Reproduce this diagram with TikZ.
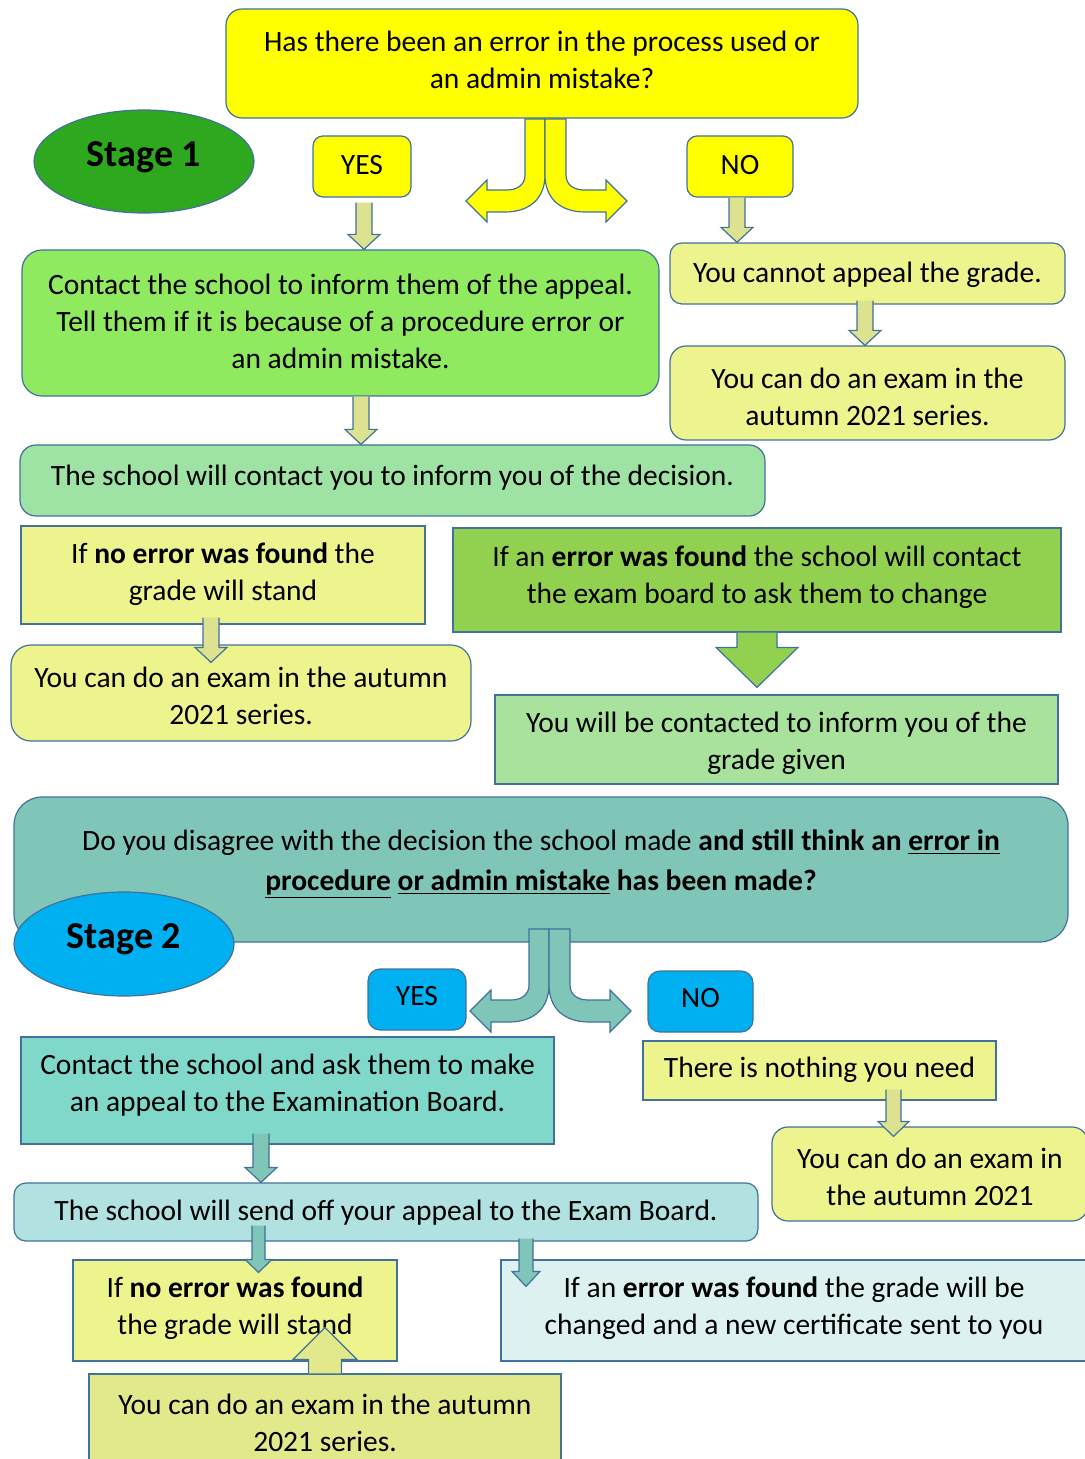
\documentclass[tikz,border=0pt]{standalone}
\usepackage{fontspec}
\setmainfont{Carlito}
\usetikzlibrary{calc,shapes.geometric}

\definecolor{edge}{RGB}{65,113,156}
\definecolor{qyellow}{RGB}{255,255,0}
\definecolor{paleyellow}{RGB}{238,244,141}
\definecolor{stagegreen}{RGB}{46,168,30}
\definecolor{stageblue}{RGB}{0,176,240}
\definecolor{contactgreen}{RGB}{144,234,96}
\definecolor{decisiongreen}{RGB}{158,227,163}
\definecolor{errgreen}{RGB}{146,208,80}
\definecolor{resultgreen}{RGB}{169,226,156}
\definecolor{qteal}{RGB}{127,198,184}
\definecolor{contactteal}{RGB}{128,216,202}
\definecolor{sendteal}{RGB}{177,225,224}
\definecolor{errteal}{RGB}{221,242,240}
\definecolor{lastyellow}{RGB}{225,233,139}
\definecolor{arrowpale}{RGB}{220,226,143}

\newcommand{\blockarrow}[6]{%
  \path[#1] let \p1=#2, \p2=#3 in
    ({\x1-#4},\y1) -- ({\x1-#4},{\y2+(#6)}) -- ({\x1-#5},{\y2+(#6)}) -- (\x1,\y2)
    -- ({\x1+#5},{\y2+(#6)}) -- ({\x1+#4},{\y2+(#6)}) -- ({\x1+#4},\y1);}

\newcommand{\forkarrows}[1]{%
  \path[#1] (-20,1) -- (-20,57) .. controls (-20,67) and (-28,72) .. (-38,72)
    -- (-58,72) -- (-58,62) -- (-79,83) -- (-58,104) -- (-58,94) -- (-40,94)
    .. controls (-15,94) and (0,80) .. (0,57) -- (0,1) -- cycle;
  \path[#1] (0,1) -- (0,57) .. controls (0,80) and (15,94) .. (40,94)
    -- (61,94) -- (61,104) -- (82,83) -- (61,62) -- (61,72) -- (39,72)
    .. controls (29,72) and (21,67) .. (21,57) -- (21,1) -- cycle;}

\begin{document}
\begin{tikzpicture}[x=0.5pt, y=-0.5pt,
  box/.style={draw=edge, line width=0.6pt, inner sep=0pt, align=center,
    font=\fontsize{14.75}{18.5}\selectfont, text depth=#1},
  box/.default=4pt,
  sz/.style 2 args={minimum width=#1*0.5pt, minimum height=#2*0.5pt},
  stagelabel/.style={ellipse, draw=edge, line width=0.6pt, inner sep=0pt,
    font=\fontsize{19}{22}\selectfont\bfseries, text depth=7.8pt},
  txt/.style={inner sep=0pt, align=center, font=\fontsize{14.75}{20}\selectfont},
  palearrow/.style={fill=arrowpale, draw=edge, line width=0.6pt},
  tealarrow/.style={fill=qteal, draw=edge, line width=0.6pt}]
\useasboundingbox (0,0) rectangle (1084,1459);

% stage 1
\node[box=4pt, sz={632}{109}, fill=qyellow, rounded corners=8pt] (q1) at (542,63.5)
  {Has there been an error in the process used or\\an admin mistake?};
\node[stagelabel, sz={220}{103}, fill=stagegreen] (stage1) at (144,161.5) {Stage 1};
\node[box=2pt, sz={98}{61}, fill=qyellow, rounded corners=5pt] (yes1) at (362,166.5) {YES};
\node[box=2pt, sz={106}{61}, fill=qyellow, rounded corners=5pt] (no1) at (740,166.5) {NO};

\node[box=2pt, sz={637}{146}, fill=contactgreen, rounded corners=10pt] (contact1) at (340.5,323)
  {Contact the school to inform them of the appeal.\\Tell them if it is because of a procedure error or\\an admin mistake.};
\node[box=1pt, sz={395}{61}, fill=paleyellow, rounded corners=6pt] (cannot) at (867.5,273.5)
  {You cannot appeal the grade.};
\node[box=0pt, text height=32.7pt, sz={395}{94}, fill=paleyellow, rounded corners=8pt] (exam1) at (867.5,393)
  {You can do an exam in the\\autumn 2021 series.};
\node[box=5.5pt, sz={745}{71}, fill=decisiongreen, rounded corners=8pt] (decision) at (392.5,480.5)
  {The school will contact you to inform you of the decision.};

\node[box=3.5pt, sz={404}{98}, fill=paleyellow] (noerr1) at (223,575)
  {If \textbf{no error was found} the\\grade will stand};
\node[box=5.5pt, sz={608}{104}, fill=errgreen] (err1) at (757,580)
  {If an \textbf{error was found} the school will contact\\the exam board to ask them to change};
\node[box=0pt, text height=31.7pt, sz={460}{96}, fill=paleyellow, rounded corners=10pt] (exam2) at (241,693)
  {You can do an exam in the autumn\\2021 series.};
\node[box=0pt, text height=30.2pt, sz={563}{89}, fill=resultgreen] (contacted) at (776.5,739.5)
  {You will be contacted to inform you of the\\grade given};

\begin{scope}[shift={(545,118)}]
\forkarrows{fill=qyellow, draw=edge, line width=0.6pt}
\end{scope}
\blockarrow{palearrow}{([xshift=1pt,yshift=-2.5pt]yes1.south)}{(contact1.north)}{4pt}{8pt}{7.5pt}
\blockarrow{palearrow}{([xshift=-1.5pt]no1.south)}{(cannot.north)}{4pt}{8pt}{7.5pt}
\blockarrow{palearrow}{([xshift=-1.25pt,yshift=2pt]cannot.south)}{(exam1.north)}{4pt}{8pt}{7.5pt}
\blockarrow{palearrow}{([xshift=10.25pt]contact1.south)}{(decision.north)}{4pt}{8pt}{7.5pt}
\blockarrow{palearrow}{([xshift=-6pt,yshift=3.5pt]noerr1.south)}{([yshift=-9pt]exam2.north)}{4pt}{8pt}{7.5pt}
\blockarrow{fill=errgreen, draw=edge, line width=0.6pt}{(err1.south)}{([yshift=3.5pt]contacted.north)}{10pt}{20.5pt}{20pt}

% stage 2
\node[box, sz={1054}{145}, fill=qteal, rounded corners=14pt] (q2) at (541,869.5) {};
\node[txt] (q2text) at (541,864)
  {Do you disagree with the decision the school made \textbf{and still think an \underline{error in}}\\
   \textbf{\underline{procedure} \underline{or admin mistake} has been made?}};
\begin{scope}[shift={(549,928)}]
\forkarrows{fill=qteal, draw=edge, line width=0.6pt}
\end{scope}
\node[stagelabel, sz={220}{104}, fill=stageblue] (stage2) at (124,944) {Stage 2};
\node[box=4pt, sz={98}{61}, fill=stageblue, rounded corners=6pt] (yes2) at (417,999.5) {YES};
\node[box=4pt, sz={105}{61}, fill=stageblue, rounded corners=6pt] (no2) at (700.5,1001.5) {NO};

\node[box=8pt, sz={533}{107}, fill=contactteal] (contact2) at (287.5,1090.5)
  {Contact the school and ask them to make\\an appeal to the Examination Board.};
\node[box=3.5pt, sz={353}{59}, fill=paleyellow] (nothing) at (819.5,1070.5)
  {There is nothing you need};
\node[box=0pt, text height=31.7pt, sz={316}{94}, fill=paleyellow, rounded corners=8pt] (exam3) at (930,1174)
  {You can do an exam in\\the autumn 2021};
\node[box=2pt, sz={744}{58}, fill=sendteal, rounded corners=6pt] (sendoff) at (386,1212)
  {The school will send off your appeal to the Exam Board.};
\node[box=5pt, sz={324}{101}, fill=paleyellow] (noerr2) at (235,1310.5)
  {If \textbf{no error was found}\\the grade will stand};
\node[box=5pt, sz={586}{101}, fill=errteal] (err2) at (794,1310.5)
  {If an \textbf{error was found} the grade will be\\changed and a new certificate sent to you};
\node[box=4.5pt, sz={472}{106}, fill=lastyellow] (exam4) at (325,1427)
  {You can do an exam in the autumn\\2021 series.};

\blockarrow{tealarrow}{([xshift=-13.25pt,yshift=5.5pt]contact2.south)}{(sendoff.north)}{4pt}{8pt}{7.5pt}
\blockarrow{palearrow}{([xshift=37pt,yshift=5.5pt]nothing.south)}{([yshift=-5pt]exam3.north)}{3.75pt}{7.75pt}{7.5pt}
\blockarrow{tealarrow}{([xshift=-63.75pt,yshift=8pt]sendoff.south)}{([yshift=-6.5pt]noerr2.north)}{3.25pt}{6.75pt}{6.5pt}
\blockarrow{tealarrow}{([xshift=70pt,yshift=1.5pt]sendoff.south)}{([yshift=-13.5pt]err2.north)}{3.5pt}{7pt}{7.5pt}
\blockarrow{fill=lastyellow, draw=edge, line width=0.6pt}{(exam4.north)}{([yshift=-34pt]noerr2.north)}{8.25pt}{16pt}{-16pt}
\end{tikzpicture}
\end{document}
